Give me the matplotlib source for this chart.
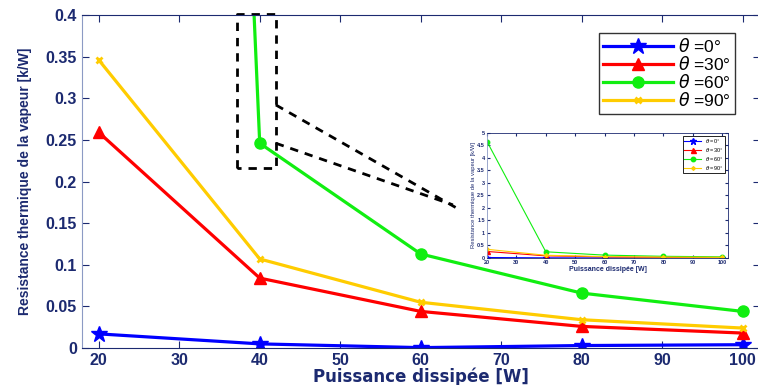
import matplotlib
matplotlib.use("Agg")
import matplotlib.pyplot as plt
import numpy as np

puissance = [20, 40, 60, 80, 100]
r_0 = [0.017, 0.005, 0.0005, 0.003, 0.004]
r_30 = [0.259, 0.084, 0.044, 0.026, 0.018]
r_60 = [4.65, 0.246, 0.113, 0.066, 0.044]
r_90 = [0.346, 0.107, 0.055, 0.034, 0.024]
labels = [r'$\theta$ =0°', r'$\theta$ =30°', r'$\theta$ =60°', r'$\theta$ =90°']

navy = '#1c2a70'
plt.rcParams['font.family'] = ['Liberation Sans', 'DejaVu Sans']

fig = plt.figure(figsize=(7.58, 3.85), dpi=100)
ax = fig.add_axes([0.108, 0.096, 0.895, 0.865])

styles = [
    dict(color='#0000ff', marker='*', ms=12),
    dict(color='#ff0000', marker='^', ms=9),
    dict(color='#11ee11', marker='o', ms=8),
    dict(color='#ffcc00', marker='x', ms=5, mew=2),
]
series = [r_0, r_30, r_60, r_90]

for s, st, lab in zip(series, styles, labels):
    ax.plot(puissance, s, lw=2.3, label=lab, **st)

ax.set_xlim(17.9, 102.2)
ax.set_ylim(0, 0.4)
ax.set_xticks(range(20, 101, 10))
ax.set_yticks(np.arange(0, 0.41, 0.05))
ax.set_yticklabels(['0', '0.05', '0.1', '0.15', '0.2', '0.25', '0.3', '0.35', '0.4'])
ax.tick_params(direction='in', top=True, right=True, colors=navy, labelsize=11.5, length=5)
for lab in ax.get_xticklabels() + ax.get_yticklabels():
    lab.set_fontweight('bold')
for sp in ax.spines.values():
    sp.set_color(navy)
ax.spines['left'].set_color('#8c9ac4')
ax.set_xlabel('Puissance dissipée [W]', fontsize=12, fontweight='bold', color=navy,
              family='DejaVu Sans', labelpad=0)
ax.set_ylabel('Resistance thermique de la vapeur [k/W]', fontsize=10, fontweight='bold',
              color=navy, labelpad=10)

leg = ax.legend(loc='upper right', bbox_to_anchor=(0.963, 0.946), borderaxespad=0,
                fontsize=12.5, fancybox=False, edgecolor='#333333', framealpha=1,
                handlelength=4.0, borderpad=0.25, labelspacing=0.0, handletextpad=0.3)
leg.get_frame().set_linewidth(1.0)

# zoom rectangle and connector lines
ax.plot([37.2, 37.2, 42.0, 42.0, 37.2], [0.216, 0.401, 0.401, 0.216, 0.216],
        ls='--', color='black', lw=2, dashes=(3, 2.5), clip_on=False)
ax.plot([42.0, 64.5], [0.292, 0.168], ls='--', color='black', lw=2, dashes=(3, 2.5))
ax.plot([42.0, 64.0], [0.246, 0.172], ls='--', color='black', lw=2, dashes=(3, 2.5))

# inset showing the full range
ins = fig.add_axes([0.6425, 0.330, 0.318, 0.325])
for s, st, lab in zip(series, styles, labels):
    st2 = dict(st)
    st2['ms'] = st['ms'] * 0.4
    ins.plot(puissance, s, lw=0.8, label=lab, **st2)
ins.set_xlim(20, 102)
ins.set_ylim(0, 5)
ins.set_xticks(range(20, 101, 10))
ins.set_yticks(np.arange(0, 5.1, 0.5))
ins.set_yticklabels(['0', '0.5', '1', '1.5', '2', '2.5', '3', '3.5', '4', '4.5', '5'])
ins.tick_params(direction='in', top=True, right=True, colors=navy, labelsize=4, length=2, pad=1.5)
for lab in ins.get_xticklabels() + ins.get_yticklabels():
    lab.set_fontweight('bold')
for sp in ins.spines.values():
    sp.set_color(navy)
    sp.set_linewidth(0.6)
ins.spines['left'].set_color('#8c9ac4')
ins.set_xlabel('Puissance dissipée [W]', fontsize=5, fontweight='bold', color=navy, labelpad=0.5)
ins.set_ylabel('Resistance thermique de la vapeur [k/W]', fontsize=4.2, color=navy, labelpad=1)
il = ins.legend(loc='upper right', fontsize=4, fancybox=False, edgecolor='black',
                framealpha=1, handlelength=3, borderpad=0.3, labelspacing=0.15)
il.get_frame().set_linewidth(0.6)

fig.savefig('out.png', dpi=100)
